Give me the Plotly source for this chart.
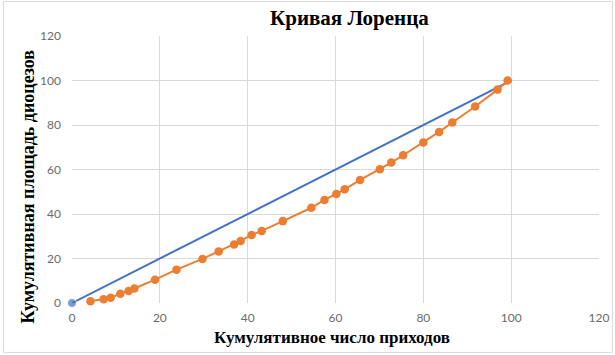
import plotly.graph_objects as go

# Data
equal_x = [0, 100]
equal_y = [0, 100]

lorenz_x = [4.2, 7.2, 8.8, 11.0, 12.9, 14.2, 18.9, 23.8, 29.7, 33.4, 36.9, 38.4, 40.9,
            43.2, 48.0, 54.5, 57.5, 60.2, 62.1, 65.6, 70.1, 72.7, 75.4, 80.0, 83.6,
            86.6, 91.8, 96.9, 99.2]
lorenz_y = [0.8, 1.7, 2.4, 4.2, 5.4, 6.5, 10.5, 15.0, 19.8, 23.2, 26.3, 27.9, 30.6,
            32.4, 36.8, 42.8, 46.3, 49.0, 51.1, 55.3, 60.1, 63.1, 66.4, 72.1, 76.9,
            81.1, 88.3, 95.9, 100.0]

tick_vals = [0, 20, 40, 60, 80, 100, 120]

title_text = "Кривая Лоренца"
x_title = "Кумулятивное число приходов"
y_title = "Кумулятивная площадь диоцезов"

BLUE = "#4472C4"
ORANGE = "#ED7D31"
GRID = "#d9d9d9"

fig = go.Figure()
fig.add_trace(go.Scatter(
    x=equal_x, y=equal_y, mode="lines+markers",
    line=dict(color=BLUE, width=2),
    marker=dict(color=BLUE, size=[9, 0]),
    cliponaxis=False,
    showlegend=False, hoverinfo="skip"))
fig.add_trace(go.Scatter(
    x=lorenz_x, y=lorenz_y, mode="lines+markers",
    line=dict(color=ORANGE, width=2),
    marker=dict(color=ORANGE, size=8.5),
    cliponaxis=False,
    showlegend=False))

serif = "Liberation Serif, Times New Roman, serif"
fig.update_layout(
    width=615, height=355,
    margin=dict(l=71.5, r=16.4, t=36.4, b=52.3, autoexpand=False),
    paper_bgcolor="white", plot_bgcolor="white",
    xaxis=dict(range=[0, 120], tickvals=tick_vals, showgrid=True, gridcolor=GRID,
               gridwidth=1, zeroline=False, showline=False,
               tickfont=dict(family="Lato, sans-serif", size=12, color="#6b6b6b"),
               ticks="", ticklabelstandoff=6, fixedrange=True),
    yaxis=dict(range=[0, 120], tickvals=tick_vals, showgrid=True, gridcolor=GRID,
               gridwidth=1, zeroline=False, showline=False,
               tickfont=dict(family="Lato, sans-serif", size=12, color="#6b6b6b"),
               ticks="", ticklabelstandoff=10, fixedrange=True),
    annotations=[
        dict(text="<b>" + title_text + "</b>", xref="paper", yref="paper",
             x=(349 - 71.5) / 527.1, y=(302.7 - 18) / 266.3, showarrow=False,
             xanchor="center", yanchor="middle",
             font=dict(family=serif, size=21, color="black")),
        dict(text="<b>" + x_title + "</b>", xref="paper", yref="paper",
             x=(332 - 71.5) / 527.1, y=(302.7 - 337) / 266.3, showarrow=False,
             xanchor="center", yanchor="middle",
             font=dict(family=serif, size=17, color="black")),
        dict(text="<b>" + y_title + "</b>", xref="paper", yref="paper",
             x=(27 - 71.5) / 527.1, y=(302.7 - 187) / 266.3, showarrow=False,
             xanchor="center", yanchor="middle", textangle=-90,
             font=dict(family=serif, size=18, color="black")),
    ],
    shapes=[dict(type="rect", xref="paper", yref="paper",
                 x0=(3 - 71.5) / 527.1, x1=(612 - 71.5) / 527.1,
                 y0=(302.7 - 352) / 266.3, y1=(302.7 - 2) / 266.3,
                 line=dict(color=GRID, width=1), layer="below")],
)

fig.write_html("out.html", config={"displayModeBar": False},
               post_script="document.body.style.margin='0';document.body.style.padding='0';")
